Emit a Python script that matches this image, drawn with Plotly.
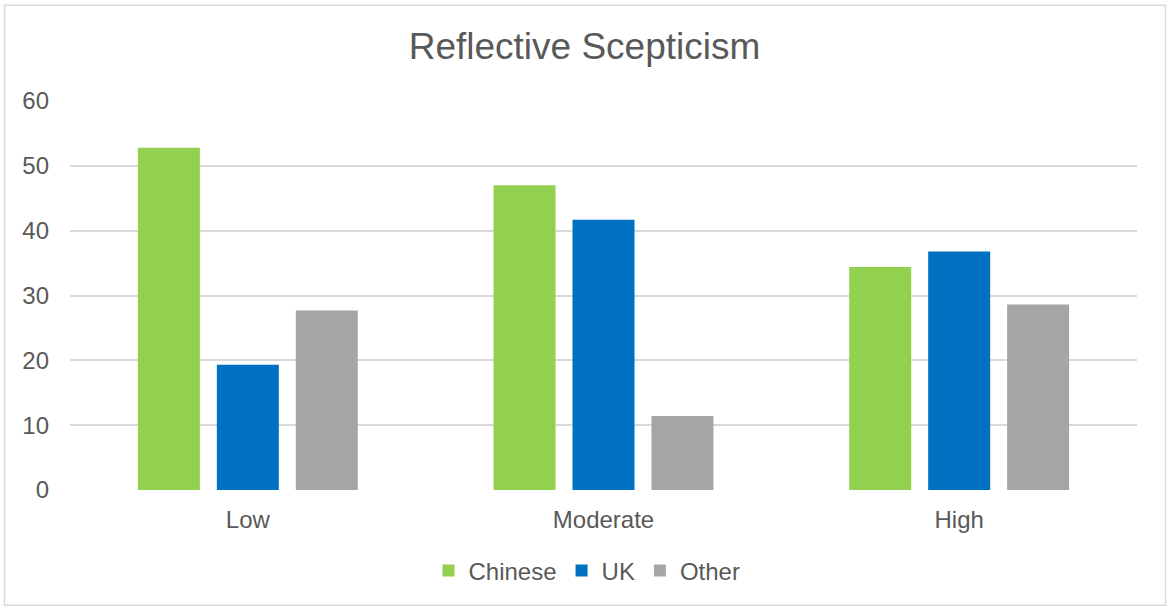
import plotly.graph_objects as go

# Survey share (%) by level of reflective scepticism
categories = ["Low", "Moderate", "High"]
chinese = [52.8, 47.0, 34.4]
uk = [19.3, 41.7, 36.8]
other = [27.7, 11.4, 28.6]
y_ticks = [0, 10, 20, 30, 40, 50, 60]

W, H = 1169, 608
plot_left, plot_right = 70, 1137
plot_top, plot_bottom = 100.5, 490.5

text_color = "#595959"
grid_color = "#d9d9d9"
font_family = "Liberation Sans, Arial, sans-serif"

fig = go.Figure()
for name, vals, color in [
    ("Chinese", chinese, "#92D050"),
    ("UK", uk, "#0070C0"),
    ("Other", other, "#A5A5A5"),
]:
    fig.add_trace(go.Bar(x=categories, y=vals, name=name,
                         marker=dict(color=color, line=dict(width=0))))

# outer chart frame, expressed in plot-area (paper) fractions
pw = plot_right - plot_left
ph = plot_bottom - plot_top
def px_x(p):
    return (p - plot_left) / pw
def px_y(p):
    return (plot_bottom - p) / ph

fig.add_shape(type="rect", xref="paper", yref="paper",
              x0=px_x(4.5), x1=px_x(1165.5), y0=px_y(606), y1=px_y(4.5),
              line=dict(color=grid_color, width=1.5), fillcolor="rgba(0,0,0,0)",
              layer="below")

fig.update_layout(
    width=W, height=H,
    margin=dict(l=plot_left, r=W - plot_right, t=plot_top, b=H - plot_bottom),
    paper_bgcolor="white", plot_bgcolor="white",
    font=dict(family=font_family, color=text_color, size=24),
    title=dict(text="Reflective Scepticism", x=0.5, xref="container",
               y=1 - 46 / H, yref="container", yanchor="middle", xanchor="center",
               font=dict(size=37, color=text_color, family=font_family)),
    barmode="group", bargap=0.334, bargroupgap=0.215,
    showlegend=True,
    legend=dict(orientation="h", xref="container", yref="container",
                x=587 / W, xanchor="center", y=1 - 571 / H, yanchor="middle",
                font=dict(size=24, color=text_color), itemwidth=30,
                traceorder="normal"),
    xaxis=dict(showgrid=False, showline=False, zeroline=False, ticks="",
               tickfont=dict(size=24, color=text_color), ticklabelstandoff=13),
    yaxis=dict(range=[0, 60], tickvals=y_ticks, showgrid=True, gridcolor=grid_color,
               gridwidth=1.5, zeroline=False, showline=False, ticks="",
               tickfont=dict(size=24, color=text_color), ticklabelstandoff=20),
)

fig.write_html("out.html")
